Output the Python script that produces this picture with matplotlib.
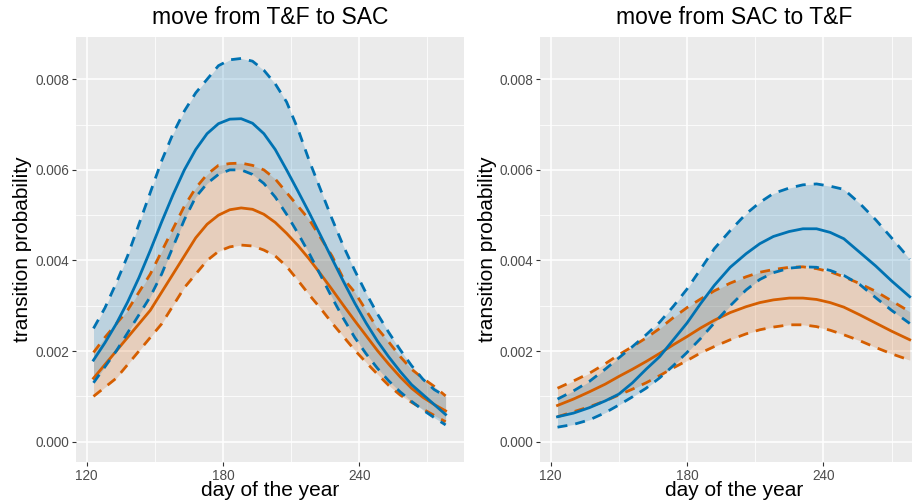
import matplotlib.pyplot as plt

plt.rcParams['font.family'] = ['Liberation Sans', 'DejaVu Sans']

# left panel: move from T&F to SAC
days_l = [123, 128, 133, 138, 143, 148, 153, 158, 163, 168, 173, 178, 183, 188, 193, 198,
          203, 208, 213, 218, 223, 228, 233, 238, 243, 248, 253, 258, 263, 268, 273, 278]
l_blue_hi = [0.0025, 0.00295, 0.0035, 0.0041, 0.0048, 0.0055, 0.0062, 0.0068, 0.0073, 0.0077, 0.0080,
             0.0083, 0.00843, 0.00846, 0.0084, 0.0082, 0.0079, 0.0075, 0.0069, 0.0062, 0.00556, 0.00492,
             0.00432, 0.00378, 0.00328, 0.00282, 0.00241, 0.00203, 0.00168, 0.00138, 0.00115, 0.0010]
l_blue_fit = [0.0018, 0.00218, 0.0026, 0.00308, 0.00362, 0.00422, 0.00485, 0.00545, 0.0060, 0.00645, 0.0068,
              0.00702, 0.00712, 0.00713, 0.00703, 0.0068, 0.00645, 0.0060, 0.00553, 0.00505, 0.00455, 0.00404,
              0.00354, 0.00306, 0.00262, 0.00222, 0.00187, 0.00155, 0.00126, 0.00104, 0.00082, 0.0006]
l_blue_lo = [0.0013, 0.00165, 0.0020, 0.0024, 0.0028, 0.0032, 0.0037, 0.0043, 0.0049, 0.0054, 0.0057,
             0.0059, 0.0060, 0.0060, 0.0059, 0.0057, 0.0054, 0.00502, 0.0046, 0.00415, 0.00367, 0.00318,
             0.00272, 0.0023, 0.00194, 0.00162, 0.00134, 0.0011, 0.00089, 0.0007, 0.00053, 0.00037]
l_orange_hi = [0.00197, 0.0023, 0.0026, 0.0029, 0.0033, 0.0037, 0.0042, 0.0047, 0.0052, 0.0056, 0.0059,
               0.0061, 0.00614, 0.00615, 0.0061, 0.0060, 0.0058, 0.0055, 0.0052, 0.0049, 0.0045, 0.0041,
               0.0036, 0.0033, 0.0029, 0.0025, 0.0022, 0.00188, 0.0016, 0.0014, 0.00122, 0.00101]
l_orange_fit = [0.0014, 0.0017, 0.0020, 0.0023, 0.0026, 0.0029, 0.0033, 0.0037, 0.0041, 0.0045, 0.0048,
                0.0050, 0.00512, 0.00516, 0.00513, 0.00502, 0.00484, 0.0046, 0.00433, 0.00403, 0.0037, 0.00336,
                0.00301, 0.00267, 0.00234, 0.00201, 0.00171, 0.00143, 0.00118, 0.00098, 0.00082, 0.00068]
l_orange_lo = [0.0010, 0.0012, 0.0014, 0.0017, 0.0020, 0.0023, 0.0026, 0.0030, 0.0034, 0.0037, 0.0040,
               0.0042, 0.0043, 0.00434, 0.00432, 0.00423, 0.0041, 0.00387, 0.00356, 0.00324, 0.00294, 0.00262,
               0.00232, 0.00202, 0.00175, 0.00149, 0.00124, 0.00103, 0.00087, 0.00072, 0.00058, 0.00044]

# right panel: move from SAC to T&F
days_r = [123, 130, 137, 144, 150, 156, 162, 168, 174, 180, 186, 192, 199,
          206, 212, 218, 225, 231, 237, 243, 249, 256, 263, 270, 278]
r_blue_hi = [0.00094, 0.00112, 0.00133, 0.0016, 0.00185, 0.0021, 0.00236, 0.00264, 0.00299, 0.00337,
             0.00381, 0.00426, 0.00466, 0.00503, 0.00528, 0.00548, 0.0056, 0.00567, 0.00569, 0.00564,
             0.00557, 0.00526, 0.0049, 0.0045, 0.00403]
r_blue_fit = [0.00055, 0.00063, 0.00075, 0.0009, 0.00105, 0.0013, 0.0016, 0.00188, 0.00225, 0.00262,
              0.00305, 0.00345, 0.00385, 0.00415, 0.00437, 0.00453, 0.00464, 0.0047, 0.0047, 0.00462,
              0.00448, 0.00418, 0.00388, 0.00355, 0.0032]
r_blue_lo = [0.00032, 0.00038, 0.00048, 0.00064, 0.00081, 0.00099, 0.00118, 0.00141, 0.00168, 0.00197,
             0.00228, 0.00262, 0.0030, 0.00335, 0.00358, 0.00373, 0.00383, 0.00386, 0.00385, 0.00378,
             0.00367, 0.00347, 0.00318, 0.0029, 0.00261]
r_orange_hi = [0.00118, 0.00134, 0.00151, 0.00172, 0.00192, 0.0021, 0.00229, 0.0025, 0.00274, 0.00296,
               0.00315, 0.00333, 0.0035, 0.00364, 0.00374, 0.0038, 0.00385, 0.00386, 0.00382, 0.00375,
               0.00364, 0.00349, 0.00332, 0.00311, 0.00287]
r_orange_fit = [0.0008, 0.00094, 0.0011, 0.00127, 0.00144, 0.0016, 0.00177, 0.00195, 0.00214, 0.00232,
                0.00251, 0.00268, 0.00285, 0.00298, 0.00307, 0.00313, 0.00317, 0.00317, 0.00314, 0.00307,
                0.00297, 0.0028, 0.00262, 0.00244, 0.00225]
r_orange_lo = [0.00055, 0.00066, 0.00077, 0.0009, 0.00103, 0.00116, 0.0013, 0.00146, 0.00163, 0.00179,
               0.00196, 0.0021, 0.00225, 0.00238, 0.00247, 0.00253, 0.00258, 0.00258, 0.00254, 0.00246,
               0.00236, 0.00223, 0.00208, 0.00194, 0.0018]

yticks = [0.0, 0.002, 0.004, 0.006, 0.008]
ytick_labels = ['0.000', '0.002', '0.004', '0.006', '0.008']
xticks = [120, 180, 240]

BLUE = '#0072B2'
ORANGE = '#D55E00'

W, H = 917, 504
fig = plt.figure(figsize=(W / 100, H / 100), dpi=100)
bot = (H - 461.7) / H
hgt = 424.4 / H
ax1 = fig.add_axes([76 / W, bot, 388 / W, hgt])
ax2 = fig.add_axes([540 / W, bot, 372 / W, hgt])


def style(ax, xmax):
    ax.set_facecolor('#EBEBEB')
    for s in ax.spines.values():
        s.set_visible(False)
    ax.set_xlim(115.3, xmax)
    ax.set_ylim(-0.000442, 0.008927)
    ax.set_xticks(xticks)
    ax.set_xticks([150, 210, 270], minor=True)
    ax.set_yticks(yticks)
    ax.set_yticklabels(ytick_labels)
    ax.set_yticks([0.001, 0.003, 0.005, 0.007], minor=True)
    ax.grid(which='major', color='white', lw=1.1)
    ax.grid(which='minor', color='white', lw=0.55)
    ax.set_axisbelow(True)
    ax.tick_params(which='major', length=2.9, width=0.8, color='#333333',
                   labelcolor='#4D4D4D', labelsize=9.8, pad=2)
    ax.tick_params(which='minor', length=0)


def band(ax, days, lo, fit, hi, color):
    # ribbon first, then the fit and the dashed bounds
    ax.fill_between(days, lo, hi, color=color, alpha=0.2, lw=0)
    ax.plot(days, fit, color=color, lw=2, solid_joinstyle='round')
    ax.plot(days, lo, color=color, lw=2, ls=(0, (3.6, 2.9)))
    ax.plot(days, hi, color=color, lw=2, ls=(0, (3.6, 2.9)))


style(ax1, 286.1)
style(ax2, 279.0)
band(ax1, days_l, l_orange_lo, l_orange_fit, l_orange_hi, ORANGE)
band(ax1, days_l, l_blue_lo, l_blue_fit, l_blue_hi, BLUE)
band(ax2, days_r, r_orange_lo, r_orange_fit, r_orange_hi, ORANGE)
band(ax2, days_r, r_blue_lo, r_blue_fit, r_blue_hi, BLUE)

# titles and axis labels
for cx, title in [(270, 'move from T&F to SAC'), (734, 'move from SAC to T&F')]:
    fig.text(cx / W, 1 - 18 / H, title, ha='center', va='center', fontsize=16.5)
    fig.text(cx / W, 1 - 496 / H, 'day of the year', ha='center', va='baseline', fontsize=15)
for cx in [23, 487]:
    fig.text(cx / W, 1 - 249.5 / H, 'transition probability', rotation=90,
             ha='center', va='center', fontsize=15)

fig.savefig('out.png', dpi=100)
